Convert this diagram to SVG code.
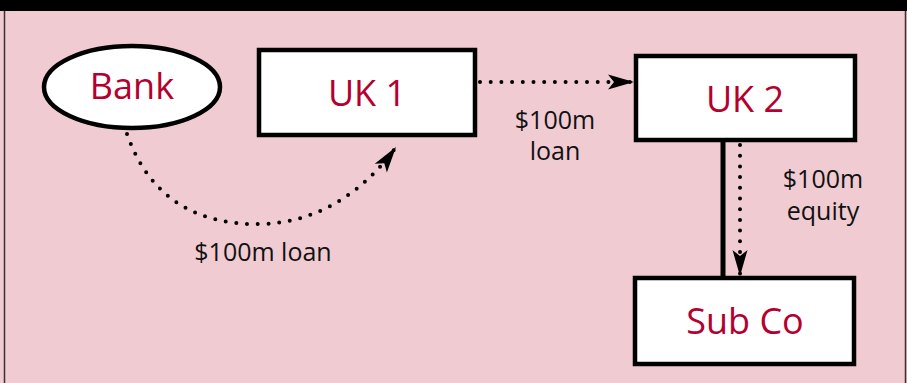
<svg xmlns="http://www.w3.org/2000/svg" width="907" height="383" viewBox="0 0 907 383">
  <style>
    .node { fill: #ffffff; stroke: #000000; stroke-width: 4.5; }
    .name { font-family: "Open Sans", "Noto Sans", sans-serif; font-size: 36px; fill: #b5002f; text-anchor: middle; }
    .lbl { font-family: "Open Sans", "Noto Sans", sans-serif; font-size: 25px; fill: #111111; text-anchor: middle; }
    .flow { fill: none; stroke: #000000; stroke-width: 4; stroke-linecap: round; stroke-dasharray: 0 10.7; }
  </style>
  <defs>
    <marker id="head" markerUnits="userSpaceOnUse" markerWidth="28" markerHeight="18" refX="26" refY="8" orient="auto" overflow="visible">
      <path d="M0,0.5 L26,8 L0,15.5 L6,8 z" fill="#000000"/>
    </marker>
  </defs>

  <!-- panel -->
  <rect x="0" y="0" width="907" height="383" fill="#f0cbd2"/>
  <rect x="0" y="0" width="907" height="11" fill="#000000"/>
  <line x1="4.5" y1="11" x2="4.5" y2="383" stroke="#3a3033" stroke-width="1.5"/>
  <line x1="905.5" y1="11" x2="905.5" y2="383" stroke="#3a3033" stroke-width="1.5"/>

  <!-- connectors -->
  <g id="connectors">
    <line x1="723" y1="142" x2="723" y2="276" stroke="#000000" stroke-width="5"/>
    <path class="flow" d="M127,134 C150,200 200,226 263,224 C320,222 365,190 396,147" marker-end="url(#head)"/>
    <path class="flow" d="M480,82 L634,82" marker-end="url(#head)"/>
    <path class="flow" d="M740,145 L740,276" marker-end="url(#head)"/>
    <text class="lbl" x="263" y="261">$100m loan</text>
    <text class="lbl" x="555" y="129">$100m</text>
    <text class="lbl" x="555" y="160">loan</text>
    <text class="lbl" x="823" y="188">$100m</text>
    <text class="lbl" x="823" y="220">equity</text>
  </g>

  <g id="bank">
    <ellipse class="node" cx="132" cy="87" rx="88" ry="41" stroke-width="5"/>
    <text class="name" x="132" y="99">Bank</text>
  </g>
  <g id="uk1">
    <rect class="node" x="259" y="50" width="216" height="85"/>
    <text class="name" x="367" y="106">UK 1</text>
  </g>
  <g id="uk2">
    <rect class="node" x="636" y="56" width="219" height="84"/>
    <text class="name" x="745" y="112">UK 2</text>
  </g>
  <g id="subco">
    <rect class="node" x="635" y="278" width="219" height="86"/>
    <text class="name" x="745" y="334">Sub Co</text>
  </g>
</svg>
